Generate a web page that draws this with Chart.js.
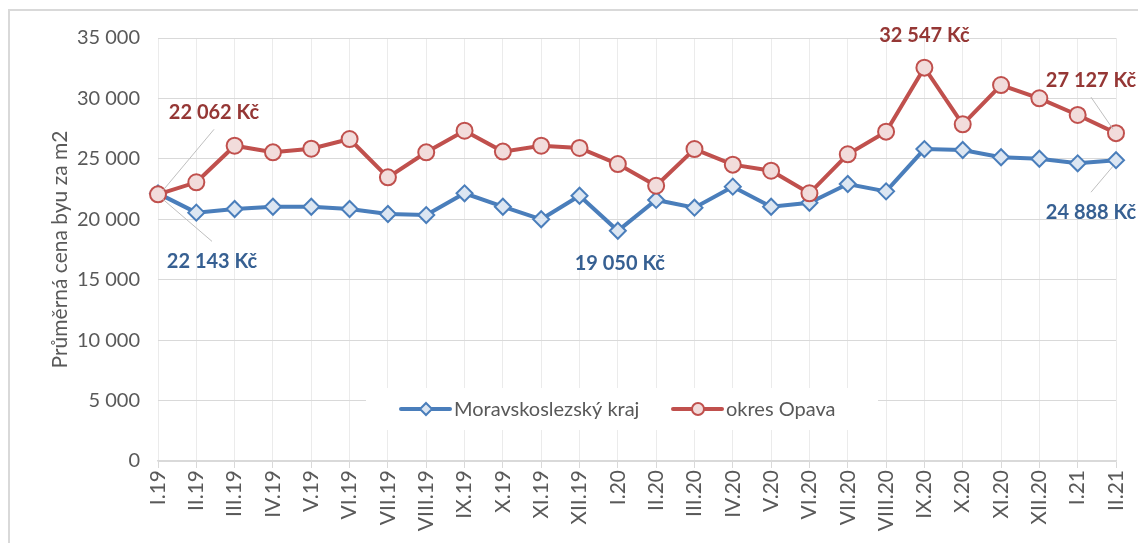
<!DOCTYPE html>
<html>
<head>
<meta charset="utf-8">
<script src="https://cdn.jsdelivr.net/npm/chart.js@4/dist/chart.umd.min.js"></script>
<style>
  body { margin: 0; background: #fff; }
  canvas { display: block; }
</style>
</head>
<body>
<canvas id="myChart" width="1138" height="543"></canvas>
<script>
// Data
const months = ['I.19', 'II.19', 'III.19', 'IV.19', 'V.19', 'VI.19', 'VII.19', 'VIII.19', 'IX.19', 'X.19', 'XI.19', 'XII.19',
  'I.20', 'II.20', 'III.20', 'IV.20', 'V.20', 'VI.20', 'VII.20', 'VIII.20', 'IX.20', 'X.20', 'XI.20', 'XII.20', 'I.21', 'II.21'];
const kraj = [22143, 20550, 20850, 21040, 21040, 20850, 20440, 20350, 22150, 21040, 20000, 21950,
  19050, 21600, 20960, 22700, 21040, 21370, 22920, 22310, 25810, 25730, 25130, 25010, 24630, 24888];
const opava = [22062, 23060, 26090, 25540, 25840, 26640, 23470, 25540, 27330, 25600, 26090, 25900,
  24570, 22780, 25810, 24520, 24020, 22150, 25380, 27250, 32547, 27860, 31110, 30010, 28630, 27127];
const yTicks = [0, 5000, 10000, 15000, 20000, 25000, 30000, 35000];

// which points get a value label: [dataset index, point index, dx, dy, leader line?]
const callouts = [
  [0, 0, 56, -82, true],
  [1, 0, 54, 68, true],
  [1, 12, 2, 33, false],
  [0, 20, 0, -32, false],
  [0, 25, -25, -53, true],
  [1, 25, -25, 52, true]
];

const canvas = document.getElementById('myChart');
const ctx = canvas.getContext('2d');

const BLUE = '#4A7EBB';
const RED = '#C0504D';
const TEXT = '#595959';

function fmt(v) {
  return String(v).replace(/\B(?=(\d{3})+(?!\d))/g, ' ');
}

const frame = {
  id: 'frame',
  beforeDraw(chart) {
    const c = chart.ctx;
    c.save();
    c.fillStyle = '#fff';
    c.fillRect(0, 0, chart.width, chart.height);
    c.strokeStyle = '#D9D9D9';
    c.lineWidth = 2;
    c.strokeRect(9, 10, chart.width + 20, chart.height + 20);
    c.restore();
  }
};

// legend box sitting inside the plot area
const insideLegend = {
  id: 'insideLegend',
  beforeDatasetsDraw(chart) {
    const c = chart.ctx;
    const y = 409;
    c.save();
    c.fillStyle = '#fff';
    c.fillRect(366, 388, 512, 42);
    c.font = '20px Lato';
    c.textBaseline = 'middle';
    const items = [
      { ds: chart.data.datasets[1], x: 401 },
      { ds: chart.data.datasets[0], x: 673 }
    ];
    items.forEach(it => {
      c.strokeStyle = it.ds.borderColor;
      c.lineWidth = 4;
      c.lineCap = 'round';
      c.beginPath();
      c.moveTo(it.x, y);
      c.lineTo(it.x + 49, y);
      c.stroke();
      c.fillStyle = it.ds.pointBackgroundColor;
      c.strokeStyle = it.ds.pointBorderColor;
      c.lineWidth = 2;
      c.beginPath();
      if (it.ds.pointStyle === 'rectRot') {
        c.moveTo(it.x + 25, y - 6);
        c.lineTo(it.x + 31, y);
        c.lineTo(it.x + 25, y + 6);
        c.lineTo(it.x + 19, y);
        c.closePath();
      } else {
        c.arc(it.x + 25, y, 6, 0, Math.PI * 2);
      }
      c.fill();
      c.stroke();
      c.fillStyle = TEXT;
      c.fillText(it.ds.label, it.x + 53, y + 1);
    });
    c.restore();
  }
};

const valueLabels = {
  id: 'valueLabels',
  afterDatasetsDraw(chart) {
    const c = chart.ctx;
    c.save();
    c.font = 'bold 20px Lato';
    c.textAlign = 'center';
    c.textBaseline = 'middle';
    callouts.forEach(([d, i, dx, dy, leader]) => {
      const pt = chart.getDatasetMeta(d).data[i];
      const ds = chart.data.datasets[d];
      const lx = pt.x + dx;
      const ly = pt.y + dy;
      if (leader) {
        const sy = dy < 0 ? ly + 17 : ly - 20;
        const ex = pt.x + (dx > 0 ? 5 : -3);
        const ey = pt.y + (dy < 0 ? -4 : 6);
        c.strokeStyle = '#BFBFBF';
        c.lineWidth = 1;
        c.beginPath();
        c.moveTo(lx, sy);
        c.lineTo(ex, ey);
        c.stroke();
      }
      c.fillStyle = ds.labelColor;
      c.fillText(fmt(ds.data[i]) + ' Kč', lx, ly);
    });
    c.restore();
  }
};

const chartData = {
  labels: months,
  datasets: [{
    label: 'okres Opava',
    data: opava,
    borderColor: RED,
    borderWidth: 4,
    pointStyle: 'circle',
    pointRadius: 8,
    pointBorderWidth: 2,
    pointBackgroundColor: '#F2DCDB',
    pointBorderColor: RED,
    labelColor: '#953735',
    tension: 0,
    order: 0
  }, {
    label: 'Moravskoslezský kraj',
    data: kraj,
    borderColor: BLUE,
    borderWidth: 4,
    pointStyle: 'rectRot',
    pointRadius: 8,
    pointBorderWidth: 2,
    pointBackgroundColor: '#DCE6F2',
    pointBorderColor: BLUE,
    labelColor: '#376092',
    tension: 0,
    order: 1
  }]
};

const chartOptions = {
  responsive: false,
  animation: false,
  layout: { padding: { left: 40, right: 22, top: 38, bottom: 0 } },
  plugins: {
    legend: { display: false },
    tooltip: { enabled: false }
  },
  scales: {
    x: {
      offset: false,
      afterFit(scale) {
        scale.height = 82;
        scale.paddingLeft = 0;
        scale.paddingRight = 0;
      },
      grid: { color: '#EBEBEB', tickColor: '#D9D9D9', tickLength: 7, lineWidth: 1 },
      border: { display: true, color: '#D9D9D9', width: 1.5 },
      ticks: {
        autoSkip: false,
        maxRotation: 90,
        minRotation: 90,
        padding: 2,
        color: TEXT,
        font: { family: 'Lato', size: 21 }
      }
    },
    y: {
      min: 0,
      max: 35000,
      afterFit(scale) { scale.width = 118; },
      afterBuildTicks(scale) { scale.ticks = yTicks.map(v => ({ value: v })); },
      grid: { color: '#D9D9D9', drawTicks: false, lineWidth: 1 },
      border: { display: false },
      ticks: {
        padding: 18,
        color: TEXT,
        font: { family: 'Lato', size: 20 },
        callback: v => fmt(v)
      },
      title: {
        display: true,
        text: 'Průměrná cena byu za m2',
        color: TEXT,
        font: { family: 'Lato', size: 21 },
        padding: { top: 8, bottom: 0 }
      }
    }
  }
};

const myChart = new Chart(ctx, {
  type: 'line',
  data: chartData,
  options: chartOptions,
  plugins: [frame, insideLegend, valueLabels]
});
</script>
</body>
</html>
